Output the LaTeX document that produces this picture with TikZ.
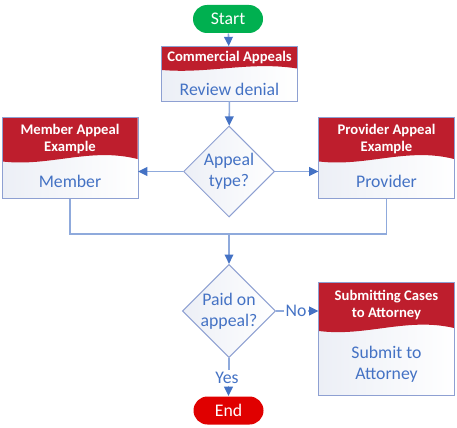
\documentclass[tikz,border=0pt]{standalone}
\usepackage{fontspec}
\setmainfont{Carlito}
\usetikzlibrary{shapes.geometric,shapes.misc,arrows.meta}

\definecolor{startgreen}{RGB}{0,176,80}
\definecolor{endred}{RGB}{224,0,0}
\definecolor{headred}{RGB}{190,30,45}
\definecolor{textblue}{RGB}{68,114,196}
\definecolor{linkblue}{RGB}{143,170,220}
\definecolor{boxline}{RGB}{142,160,210}
\definecolor{bodyshade}{RGB}{236,239,246}

\tikzset{every picture/.style={line width=0.75pt}}

\begin{document}
\begin{tikzpicture}[x=0.75pt,y=0.75pt,yscale=-1,xscale=1,
  terminal/.style={rounded rectangle, minimum width=52.5pt, minimum height=21pt, inner sep=0pt, text=white, font=\fontsize{13.3}{16}\selectfont},
  appealbox/.style={rectangle, left color=bodyshade, right color=white, inner sep=0pt},
  decision/.style={diamond, aspect=1, draw=boxline, left color=bodyshade, right color=white, minimum width=68.25pt, minimum height=68.25pt, inner sep=0pt, align=center, text=textblue, font=\fontsize{13.3}{16}\selectfont},
  headtext/.style={text=white, font=\bfseries\fontsize{11}{12.5}\selectfont, align=center},
  bodytext/.style={text=textblue, font=\fontsize{13.3}{15.5}\selectfont, align=center},
  linklabel/.style={text=textblue, font=\fontsize{13.3}{16}\selectfont, inner sep=1pt},
  link/.style={draw=linkblue, line width=1.2pt},
  arr/.style={link, -{Triangle[length=7pt,width=6.5pt,color=textblue]}}]
\useasboundingbox (0,0) rectangle (457,428);

%Terminal: Start
\node[terminal, fill=startgreen] (start) at (228,19) {Start};

%Shape: Commercial Appeals
\node[appealbox, minimum width=101.25pt, minimum height=40.5pt] (commercial) at (229.5,73.7) {};
\fill[headred] (162,46.7) -- (297,46.7) -- (297,68.5) .. controls (250,61) and (209,74) .. (162,70) -- cycle ;
\draw[boxline] (commercial.north west) rectangle (commercial.south east);
\node[headtext] (commercialhead) at (229.5,57.5) {Commercial Appeals};
\node[bodytext] (commercialtext) at (229.5,89) {Review denial};

%Decision: Appeal type
\node[decision] (appealtype) at (229,171.5) {Appeal\\type?};

%Shape: Member
\node[appealbox, minimum width=101.25pt, minimum height=60pt] (member) at (70,158) {};
\fill[headred] (2.5,118) -- (137.5,118) -- (137.5,159) .. controls (90,147) and (50,167) .. (2.5,161.5) -- cycle ;
\draw[boxline] (member.north west) rectangle (member.south east);
\node[headtext] (memberhead) at (70,139) {Member Appeal\\Example};
\node[bodytext] (membertext) at (70,181) {Member};

%Shape: Provider
\node[appealbox, minimum width=101.25pt, minimum height=60pt] (provider) at (386.5,158) {};
\fill[headred] (319,118) -- (454,118) -- (454,159) .. controls (407,147) and (367,167) .. (319,161.5) -- cycle ;
\draw[boxline] (provider.north west) rectangle (provider.south east);
\node[headtext] (providerhead) at (386.5,139) {Provider Appeal\\Example};
\node[bodytext] (providertext) at (386.5,181) {Provider};

%Decision: Paid on appeal
\node[decision] (paid) at (229,311) {Paid on\\appeal?};

%Shape: Submitting Cases
\node[appealbox, minimum width=101.25pt, minimum height=84pt] (attorney) at (386.5,339) {};
\fill[headred] (319,283) -- (454,283) -- (454,328) .. controls (407,317) and (366,337) .. (319,331) -- cycle ;
\draw[boxline] (attorney.north west) rectangle (attorney.south east);
\node[headtext] (attorneyhead) at (386.5,305) {Submitting Cases\\to Attorney};
\node[bodytext] (attorneytext) at (386.5,364) {Submit to\\Attorney};

%Terminal: End
\node[terminal, fill=endred] (end) at (228.5,410.5) {End};

% Text Node
\node[linklabel] (no) at (296,311) {No};
% Text Node
\node[linklabel] (yes) at (227,378) {Yes};

\coordinate (join) at (229,234);

%Connectors
\draw[arr] (start) -- (commercial);
\draw[arr] (commercial) -- (appealtype);
\draw[arr] (appealtype.west) -- (appealtype.west -| member.east);
\draw[arr] (appealtype.east) -- (appealtype.east -| provider.west);
\draw[link] (member.south) |- (join) -| (provider.south);
\draw[arr] (join) -- (paid.north);
\draw[link] (paid.east) -- (no.west);
\draw[arr] (no.east) -- (no.east -| attorney.west);
\draw[link] (paid.south) -- (paid.south |- yes.north);
\draw[arr] (yes.south -| end.north) -- (end.north);

\end{tikzpicture}
\end{document}
